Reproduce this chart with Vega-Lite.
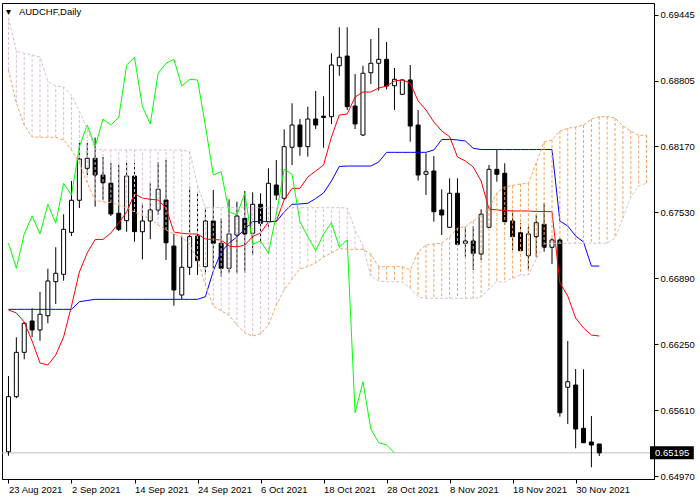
{
  "$schema": "https://vega.github.io/schema/vega-lite/v6.json",
  "width": 652,
  "height": 476,
  "autosize": {"type": "none"},
  "padding": {"left": 2, "top": 3, "right": 46, "bottom": 21},
  "background": "white",
  "title": {
    "text": "\u25be\u00a0\u00a0\u00a0AUDCHF,Daily",
    "anchor": "start",
    "frame": "group",
    "orient": "top",
    "offset": -13,
    "dx": 4,
    "font": "Liberation Sans",
    "fontSize": 9.5,
    "fontWeight": "normal",
    "color": "black"
  },
  "config": {
    "view": {"stroke": "black", "strokeWidth": 1},
    "axis": {"grid": false, "domainColor": "black", "tickColor": "black", "labelColor": "black", "labelFont": "Liberation Sans", "labelFontSize": 9.5, "labelOverlap": false, "labelFlush": false, "labelBound": false, "title": null}
  },
  "datasets": {
    "bars": [
      {"i":0,"date":"2021-08-23","open":0.65206,"high":0.65940,"low":0.65167,"close":0.65740,"tenkan":0.66581,"kijun":0.66587,"chikou":0.67228,"spanA":0.68909,"spanB":0.69413},
      {"i":1,"date":"2021-08-24","open":0.65740,"high":0.66316,"low":0.65724,"close":0.66170,"tenkan":0.66552,"kijun":0.66587,"chikou":0.66985,"spanA":0.68589,"spanB":0.69093},
      {"i":2,"date":"2021-08-25","open":0.66170,"high":0.66464,"low":0.66102,"close":0.66452,"tenkan":0.66464,"kijun":0.66587,"chikou":0.67318,"spanA":0.68375,"spanB":0.69071},
      {"i":3,"date":"2021-08-26","open":0.66474,"high":0.66597,"low":0.66319,"close":0.66387,"tenkan":0.66280,"kijun":0.66587,"chikou":0.67492,"spanA":0.68259,"spanB":0.69054},
      {"i":4,"date":"2021-08-27","open":0.66387,"high":0.66758,"low":0.66283,"close":0.66539,"tenkan":0.66067,"kijun":0.66587,"chikou":0.67318,"spanA":0.68256,"spanB":0.69035},
      {"i":5,"date":"2021-08-30","open":0.66525,"high":0.66981,"low":0.66452,"close":0.66862,"tenkan":0.66047,"kijun":0.66587,"chikou":0.67606,"spanA":0.68256,"spanB":0.68802},
      {"i":6,"date":"2021-08-31","open":0.66855,"high":0.67189,"low":0.66639,"close":0.66937,"tenkan":0.66144,"kijun":0.66587,"chikou":0.67422,"spanA":0.68256,"spanB":0.68753},
      {"i":7,"date":"2021-09-01","open":0.66927,"high":0.67509,"low":0.66865,"close":0.67363,"tenkan":0.66319,"kijun":0.66587,"chikou":0.67810,"spanA":0.68230,"spanB":0.68744},
      {"i":8,"date":"2021-09-02","open":0.67334,"high":0.67832,"low":0.67298,"close":0.67645,"tenkan":0.66619,"kijun":0.66587,"chikou":0.67696,"spanA":0.68133,"spanB":0.68666},
      {"i":9,"date":"2021-09-03","open":0.67645,"high":0.68203,"low":0.67570,"close":0.68045,"tenkan":0.66949,"kijun":0.66661,"chikou":0.68165,"spanA":0.68007,"spanB":0.68511},
      {"i":10,"date":"2021-09-06","open":0.67955,"high":0.68201,"low":0.67890,"close":0.68052,"tenkan":0.67134,"kijun":0.66673,"chikou":0.68375,"spanA":0.67813,"spanB":0.68336},
      {"i":11,"date":"2021-09-07","open":0.68052,"high":0.68252,"low":0.67583,"close":0.67890,"tenkan":0.67264,"kijun":0.66684,"chikou":0.68165,"spanA":0.67648,"spanB":0.68142},
      {"i":12,"date":"2021-09-08","open":0.67890,"high":0.68065,"low":0.67648,"close":0.67815,"tenkan":0.67266,"kijun":0.66684,"chikou":0.68433,"spanA":0.67628,"spanB":0.68133},
      {"i":13,"date":"2021-09-09","open":0.67810,"high":0.68007,"low":0.67492,"close":0.67512,"tenkan":0.67328,"kijun":0.66684,"chikou":0.68375,"spanA":0.67623,"spanB":0.68133},
      {"i":14,"date":"2021-09-10","open":0.67519,"high":0.67987,"low":0.67347,"close":0.67363,"tenkan":0.67425,"kijun":0.66684,"chikou":0.68448,"spanA":0.67599,"spanB":0.68133},
      {"i":15,"date":"2021-09-13","open":0.67447,"high":0.68007,"low":0.67340,"close":0.67880,"tenkan":0.67531,"kijun":0.66684,"chikou":0.68957,"spanA":0.67570,"spanB":0.68133},
      {"i":16,"date":"2021-09-14","open":0.67880,"high":0.68007,"low":0.67243,"close":0.67340,"tenkan":0.67706,"kijun":0.66684,"chikou":0.69032,"spanA":0.67531,"spanB":0.68133},
      {"i":17,"date":"2021-09-15","open":0.67340,"high":0.67616,"low":0.67072,"close":0.67444,"tenkan":0.67667,"kijun":0.66684,"chikou":0.68553,"spanA":0.67497,"spanB":0.68133},
      {"i":18,"date":"2021-09-16","open":0.67444,"high":0.67810,"low":0.67269,"close":0.67551,"tenkan":0.67654,"kijun":0.66684,"chikou":0.68385,"spanA":0.67468,"spanB":0.68133},
      {"i":19,"date":"2021-09-17","open":0.67551,"high":0.68016,"low":0.67502,"close":0.67751,"tenkan":0.67648,"kijun":0.66684,"chikou":0.68877,"spanA":0.67405,"spanB":0.68133},
      {"i":20,"date":"2021-09-20","open":0.67648,"high":0.68036,"low":0.67066,"close":0.67233,"tenkan":0.67570,"kijun":0.66684,"chikou":0.68974,"spanA":0.67357,"spanB":0.68133},
      {"i":21,"date":"2021-09-21","open":0.67201,"high":0.67318,"low":0.66622,"close":0.66775,"tenkan":0.67337,"kijun":0.66684,"chikou":0.69012,"spanA":0.67318,"spanB":0.68133},
      {"i":22,"date":"2021-09-22","open":0.66726,"high":0.67292,"low":0.66684,"close":0.66995,"tenkan":0.67325,"kijun":0.66684,"chikou":0.68753,"spanA":0.67289,"spanB":0.68133},
      {"i":23,"date":"2021-09-23","open":0.66995,"high":0.67777,"low":0.66920,"close":0.67292,"tenkan":0.67318,"kijun":0.66684,"chikou":0.68818,"spanA":0.67211,"spanB":0.68116},
      {"i":24,"date":"2021-09-24","open":0.67298,"high":0.67716,"low":0.66920,"close":0.67059,"tenkan":0.67318,"kijun":0.66684,"chikou":0.68812,"spanA":0.67075,"spanB":0.67793},
      {"i":25,"date":"2021-09-27","open":0.67001,"high":0.67567,"low":0.66920,"close":0.67444,"tenkan":0.67269,"kijun":0.66710,"chikou":0.68365,"spanA":0.66823,"spanB":0.67573},
      {"i":26,"date":"2021-09-28","open":0.67444,"high":0.67745,"low":0.66985,"close":0.67228,"tenkan":0.67264,"kijun":0.66959,"chikou":0.67890,"spanA":0.66619,"spanB":0.67573},
      {"i":27,"date":"2021-09-29","open":0.67228,"high":0.67470,"low":0.66904,"close":0.66985,"tenkan":0.67260,"kijun":0.67143,"chikou":0.67922,"spanA":0.66571,"spanB":0.67573},
      {"i":28,"date":"2021-09-30","open":0.66985,"high":0.67654,"low":0.66942,"close":0.67318,"tenkan":0.67201,"kijun":0.67231,"chikou":0.67534,"spanA":0.66532,"spanB":0.67573},
      {"i":29,"date":"2021-10-01","open":0.67308,"high":0.67631,"low":0.66937,"close":0.67492,"tenkan":0.67192,"kijun":0.67289,"chikou":0.67502,"spanA":0.66435,"spanB":0.67573},
      {"i":30,"date":"2021-10-04","open":0.67470,"high":0.67735,"low":0.66940,"close":0.67318,"tenkan":0.67211,"kijun":0.67366,"chikou":0.67713,"spanA":0.66358,"spanB":0.67573},
      {"i":31,"date":"2021-10-05","open":0.67325,"high":0.67722,"low":0.67114,"close":0.67606,"tenkan":0.67294,"kijun":0.67438,"chikou":0.67218,"spanA":0.66328,"spanB":0.67573},
      {"i":32,"date":"2021-10-06","open":0.67606,"high":0.67713,"low":0.67228,"close":0.67422,"tenkan":0.67328,"kijun":0.67438,"chikou":0.67250,"spanA":0.66348,"spanB":0.67573},
      {"i":33,"date":"2021-10-07","open":0.67437,"high":0.67955,"low":0.67389,"close":0.67810,"tenkan":0.67434,"kijun":0.67438,"chikou":0.67131,"spanA":0.66435,"spanB":0.67573},
      {"i":34,"date":"2021-10-08","open":0.67793,"high":0.68036,"low":0.67648,"close":0.67696,"tenkan":0.67444,"kijun":0.67438,"chikou":0.67509,"spanA":0.66629,"spanB":0.67573},
      {"i":35,"date":"2021-10-11","open":0.67664,"high":0.68333,"low":0.67648,"close":0.68165,"tenkan":0.67648,"kijun":0.67531,"chikou":0.67945,"spanA":0.66775,"spanB":0.67573},
      {"i":36,"date":"2021-10-12","open":0.68159,"high":0.68586,"low":0.67987,"close":0.68375,"tenkan":0.67761,"kijun":0.67606,"chikou":0.67897,"spanA":0.66881,"spanB":0.67573},
      {"i":37,"date":"2021-10-13","open":0.68375,"high":0.68433,"low":0.68077,"close":0.68165,"tenkan":0.67761,"kijun":0.67609,"chikou":0.67437,"spanA":0.66978,"spanB":0.67573},
      {"i":38,"date":"2021-10-14","open":0.68165,"high":0.68553,"low":0.68068,"close":0.68433,"tenkan":0.67871,"kijun":0.67616,"chikou":0.67292,"spanA":0.67003,"spanB":0.67573},
      {"i":39,"date":"2021-10-15","open":0.68433,"high":0.68705,"low":0.68336,"close":0.68375,"tenkan":0.67929,"kijun":0.67662,"chikou":0.67156,"spanA":0.67037,"spanB":0.67573},
      {"i":40,"date":"2021-10-18","open":0.68461,"high":0.68654,"low":0.68155,"close":0.68448,"tenkan":0.67987,"kijun":0.67716,"chikou":0.67318,"spanA":0.67095,"spanB":0.67573},
      {"i":41,"date":"2021-10-19","open":0.68456,"high":0.69071,"low":0.68385,"close":0.68957,"tenkan":0.68259,"kijun":0.67832,"chikou":0.67427,"spanA":0.67134,"spanB":0.67573},
      {"i":42,"date":"2021-10-20","open":0.68950,"high":0.69323,"low":0.68853,"close":0.69032,"tenkan":0.68472,"kijun":0.67973,"chikou":0.67189,"spanA":0.67177,"spanB":0.67573},
      {"i":43,"date":"2021-10-21","open":0.69044,"high":0.69323,"low":0.68521,"close":0.68553,"tenkan":0.68482,"kijun":0.67977,"chikou":0.67260,"spanA":0.67169,"spanB":0.67570},
      {"i":44,"date":"2021-10-22","open":0.68559,"high":0.68870,"low":0.68336,"close":0.68385,"tenkan":0.68647,"kijun":0.67977,"chikou":0.65584,"spanA":0.67169,"spanB":0.67357},
      {"i":45,"date":"2021-10-25","open":0.68278,"high":0.68950,"low":0.68268,"close":0.68877,"tenkan":0.68695,"kijun":0.67977,"chikou":0.65885,"spanA":0.67169,"spanB":0.67201},
      {"i":46,"date":"2021-10-26","open":0.68882,"high":0.69209,"low":0.68773,"close":0.68974,"tenkan":0.68695,"kijun":0.67977,"chikou":0.65426,"spanA":0.67124,"spanB":0.66910},
      {"i":47,"date":"2021-10-27","open":0.68974,"high":0.69316,"low":0.68708,"close":0.69012,"tenkan":0.68734,"kijun":0.68016,"chikou":0.65293,"spanA":0.67001,"spanB":0.66862},
      {"i":48,"date":"2021-10-28","open":0.69012,"high":0.69180,"low":0.68721,"close":0.68753,"tenkan":0.68753,"kijun":0.68110,"chikou":0.65271,"spanA":0.67001,"spanB":0.66855},
      {"i":49,"date":"2021-10-29","open":0.68756,"high":0.68928,"low":0.68521,"close":0.68818,"tenkan":0.68802,"kijun":0.68110,"chikou":0.65195,"spanA":0.67001,"spanB":0.66855},
      {"i":50,"date":"2021-11-01","open":0.68673,"high":0.68821,"low":0.68666,"close":0.68812,"tenkan":0.68812,"kijun":0.68110,"spanA":0.67001,"spanB":0.66852},
      {"i":51,"date":"2021-11-02","open":0.68812,"high":0.68957,"low":0.68213,"close":0.68365,"tenkan":0.68782,"kijun":0.68110,"spanA":0.66969,"spanB":0.66794},
      {"i":52,"date":"2021-11-03","open":0.68375,"high":0.68521,"low":0.67835,"close":0.67890,"tenkan":0.68608,"kijun":0.68110,"spanA":0.67143,"spanB":0.66707},
      {"i":53,"date":"2021-11-04","open":0.67897,"high":0.68101,"low":0.67696,"close":0.67922,"tenkan":0.68521,"kijun":0.68110,"spanA":0.67211,"spanB":0.66694},
      {"i":54,"date":"2021-11-05","open":0.67929,"high":0.68074,"low":0.67437,"close":0.67534,"tenkan":0.68404,"kijun":0.68133,"spanA":0.67221,"spanB":0.66694},
      {"i":55,"date":"2021-11-07","open":0.67551,"high":0.67751,"low":0.67308,"close":0.67502,"tenkan":0.68317,"kijun":0.68234,"spanA":0.67228,"spanB":0.66694},
      {"i":56,"date":"2021-11-08","open":0.67383,"high":0.67858,"low":0.67376,"close":0.67713,"tenkan":0.68262,"kijun":0.68236,"spanA":0.67289,"spanB":0.66694},
      {"i":57,"date":"2021-11-09","open":0.67713,"high":0.67858,"low":0.67211,"close":0.67218,"tenkan":0.68065,"kijun":0.68230,"spanA":0.67376,"spanB":0.66694},
      {"i":58,"date":"2021-11-10","open":0.67228,"high":0.67389,"low":0.67098,"close":0.67250,"tenkan":0.68026,"kijun":0.68220,"spanA":0.67389,"spanB":0.66694},
      {"i":59,"date":"2021-11-11","open":0.67250,"high":0.67395,"low":0.66969,"close":0.67131,"tenkan":0.67968,"kijun":0.68149,"spanA":0.67444,"spanB":0.66694},
      {"i":60,"date":"2021-11-12","open":0.67124,"high":0.67557,"low":0.67066,"close":0.67509,"tenkan":0.67832,"kijun":0.68137,"spanA":0.67502,"spanB":0.66707},
      {"i":61,"date":"2021-11-15","open":0.67383,"high":0.67987,"low":0.67376,"close":0.67945,"tenkan":0.67560,"kijun":0.68137,"spanA":0.67570,"spanB":0.66784},
      {"i":62,"date":"2021-11-16","open":0.67945,"high":0.68133,"low":0.67825,"close":0.67897,"tenkan":0.67551,"kijun":0.68137,"spanA":0.67716,"spanB":0.66855},
      {"i":63,"date":"2021-11-17","open":0.67907,"high":0.68004,"low":0.67405,"close":0.67437,"tenkan":0.67546,"kijun":0.68137,"spanA":0.67774,"spanB":0.66855},
      {"i":64,"date":"2021-11-18","open":0.67444,"high":0.67551,"low":0.67163,"close":0.67292,"tenkan":0.67541,"kijun":0.68137,"spanA":0.67788,"spanB":0.66888},
      {"i":65,"date":"2021-11-19","open":0.67330,"high":0.67422,"low":0.67152,"close":0.67156,"tenkan":0.67541,"kijun":0.68137,"spanA":0.67803,"spanB":0.66920},
      {"i":66,"date":"2021-11-22","open":0.67107,"high":0.67389,"low":0.66969,"close":0.67318,"tenkan":0.67541,"kijun":0.68137,"spanA":0.67810,"spanB":0.66920},
      {"i":67,"date":"2021-11-23","open":0.67292,"high":0.67502,"low":0.67098,"close":0.67427,"tenkan":0.67536,"kijun":0.68137,"spanA":0.68007,"spanB":0.67075},
      {"i":68,"date":"2021-11-24","open":0.67412,"high":0.67616,"low":0.67146,"close":0.67189,"tenkan":0.67536,"kijun":0.68137,"spanA":0.68210,"spanB":0.67221},
      {"i":69,"date":"2021-11-25","open":0.67189,"high":0.67276,"low":0.67027,"close":0.67260,"tenkan":0.67534,"kijun":0.68137,"spanA":0.68230,"spanB":0.67228},
      {"i":70,"date":"2021-11-26","open":0.67260,"high":0.67279,"low":0.65546,"close":0.65584,"tenkan":0.66843,"kijun":0.67444,"spanA":0.68317,"spanB":0.67228},
      {"i":71,"date":"2021-11-29","open":0.65831,"high":0.66280,"low":0.65475,"close":0.65885,"tenkan":0.66716,"kijun":0.67395,"spanA":0.68343,"spanB":0.67228},
      {"i":72,"date":"2021-11-30","open":0.65853,"high":0.66008,"low":0.65239,"close":0.65426,"tenkan":0.66503,"kijun":0.67298,"spanA":0.68356,"spanB":0.67228},
      {"i":73,"date":"2021-12-01","open":0.65433,"high":0.66005,"low":0.65290,"close":0.65293,"tenkan":0.66406,"kijun":0.67240,"spanA":0.68375,"spanB":0.67228},
      {"i":74,"date":"2021-12-02","open":0.65300,"high":0.65552,"low":0.65055,"close":0.65271,"tenkan":0.66338,"kijun":0.67007,"spanA":0.68433,"spanB":0.67228},
      {"i":75,"date":"2021-12-03","open":0.65281,"high":0.65281,"low":0.65164,"close":0.65195,"tenkan":0.66328,"kijun":0.67007,"spanA":0.68456,"spanB":0.67228},
      {"i":76,"spanA":0.68456,"spanB":0.67228},
      {"i":77,"spanA":0.68443,"spanB":0.67279},
      {"i":78,"spanA":0.68365,"spanB":0.67473},
      {"i":79,"spanA":0.68317,"spanB":0.67677},
      {"i":80,"spanA":0.68273,"spanB":0.67783},
      {"i":81,"spanA":0.68278,"spanB":0.67810}
    ],
    "last": [{"symbol": "AUDCHF", "price": 0.65195}]
  },
  "data": {"name": "bars"},
  "layer": [
    {
      "data": {"name": "last"},
      "mark": {"type": "rule", "color": "#C0C0C0", "strokeWidth": 1},
      "encoding": {
        "y": {"field": "price", "type": "quantitative", "title": null, "scale": {"domain": [0.649413, 0.695585], "nice": false, "zero": false},
          "axis": {"orient": "right", "values": [0.69445, 0.69125, 0.68805, 0.68485, 0.6817, 0.6785, 0.6753, 0.6721, 0.6689, 0.6657, 0.6625, 0.6593, 0.6561, 0.6529, 0.6497], "format": ".5f", "tickSize": 4, "labelPadding": 2, "labelAlign": "left", "labelBaseline": "middle", "title": null}}
      }
    },
    {
      "mark": {"type": "rule", "color": "black", "strokeWidth": 1, "clip": true},
      "encoding": {
        "x": {"field": "i", "type": "quantitative", "title": null, "scale": {"domain": [-0.1875, 81.3125], "nice": false, "zero": false},
          "axis": {"values": [0, 8, 16, 24, 32, 40, 48, 56, 64, 72], "labelExpr": "['23 Aug 2021','2 Sep 2021','14 Sep 2021','24 Sep 2021','6 Oct 2021','18 Oct 2021','28 Oct 2021','8 Nov 2021','18 Nov 2021','30 Nov 2021'][round(datum.value / 8)]", "labelAlign": "left", "labelBaseline": "top", "labelPadding": 1, "tickSize": 4, "title": null}},
        "y": {"field": "low", "type": "quantitative", "title": null, "scale": {"domain": [0.649413, 0.695585], "nice": false, "zero": false}},
        "y2": {"field": "high"}
      }
    },
    {
      "mark": {"type": "bar", "size": 4, "stroke": "black", "strokeWidth": 1, "clip": true},
      "encoding": {
        "x": {"field": "i", "type": "quantitative", "title": null, "scale": {"domain": [-0.1875, 81.3125], "nice": false, "zero": false}},
        "y": {"field": "open", "type": "quantitative", "title": null, "scale": {"domain": [0.649413, 0.695585], "nice": false, "zero": false}},
        "y2": {"field": "close"},
        "fill": {"condition": {"test": "datum.close >= datum.open", "value": "white"}, "value": "black"}
      }
    },
    {
      "mark": {"type": "line", "color": "#FF0000", "strokeWidth": 1, "clip": true},
      "encoding": {
        "x": {"field": "i", "type": "quantitative", "title": null, "scale": {"domain": [-0.1875, 81.3125], "nice": false, "zero": false}},
        "y": {"field": "tenkan", "type": "quantitative", "title": null, "scale": {"domain": [0.649413, 0.695585], "nice": false, "zero": false}}
      }
    },
    {
      "mark": {"type": "line", "color": "#0000FF", "strokeWidth": 1, "clip": true},
      "encoding": {
        "x": {"field": "i", "type": "quantitative", "title": null, "scale": {"domain": [-0.1875, 81.3125], "nice": false, "zero": false}},
        "y": {"field": "kijun", "type": "quantitative", "title": null, "scale": {"domain": [0.649413, 0.695585], "nice": false, "zero": false}}
      }
    },
    {
      "mark": {"type": "rule", "strokeWidth": 1, "strokeDash": [3, 2], "clip": true},
      "encoding": {
        "x": {"field": "i", "type": "quantitative", "title": null, "scale": {"domain": [-0.1875, 81.3125], "nice": false, "zero": false}},
        "y": {"field": "spanA", "type": "quantitative", "title": null, "scale": {"domain": [0.649413, 0.695585], "nice": false, "zero": false}},
        "y2": {"field": "spanB"},
        "color": {"condition": {"test": "datum.spanA > datum.spanB", "value": "#F4A460"}, "value": "#D8BFD8"}
      }
    },
    {
      "mark": {"type": "line", "color": "#00FF00", "strokeWidth": 1, "clip": true},
      "encoding": {
        "x": {"field": "i", "type": "quantitative", "title": null, "scale": {"domain": [-0.1875, 81.3125], "nice": false, "zero": false}},
        "y": {"field": "chikou", "type": "quantitative", "title": null, "scale": {"domain": [0.649413, 0.695585], "nice": false, "zero": false}}
      }
    },
    {
      "mark": {"type": "line", "color": "#F4A460", "strokeWidth": 1, "strokeDash": [3, 2], "clip": true},
      "encoding": {
        "x": {"field": "i", "type": "quantitative", "title": null, "scale": {"domain": [-0.1875, 81.3125], "nice": false, "zero": false}},
        "y": {"field": "spanA", "type": "quantitative", "title": null, "scale": {"domain": [0.649413, 0.695585], "nice": false, "zero": false}}
      }
    },
    {
      "mark": {"type": "line", "color": "#D8BFD8", "strokeWidth": 1, "strokeDash": [3, 2], "clip": true},
      "encoding": {
        "x": {"field": "i", "type": "quantitative", "title": null, "scale": {"domain": [-0.1875, 81.3125], "nice": false, "zero": false}},
        "y": {"field": "spanB", "type": "quantitative", "title": null, "scale": {"domain": [0.649413, 0.695585], "nice": false, "zero": false}}
      }
    },
    {
      "data": {"name": "last"},
      "mark": {"type": "rule", "color": "black", "strokeWidth": 13, "clip": false},
      "encoding": {
        "x": {"datum": 81.4375, "type": "quantitative"},
        "x2": {"datum": 87.0},
        "y": {"field": "price", "type": "quantitative", "title": null, "scale": {"domain": [0.649413, 0.695585], "nice": false, "zero": false}}
      }
    },
    {
      "data": {"name": "last"},
      "mark": {"type": "text", "color": "white", "font": "Liberation Sans", "fontSize": 9.5, "align": "left", "baseline": "middle", "dx": 6, "clip": false},
      "encoding": {
        "x": {"datum": 81.3125, "type": "quantitative"},
        "y": {"field": "price", "type": "quantitative", "title": null, "scale": {"domain": [0.649413, 0.695585], "nice": false, "zero": false}},
        "text": {"field": "price", "type": "quantitative", "format": ".5f"}
      }
    }
  ]
}
